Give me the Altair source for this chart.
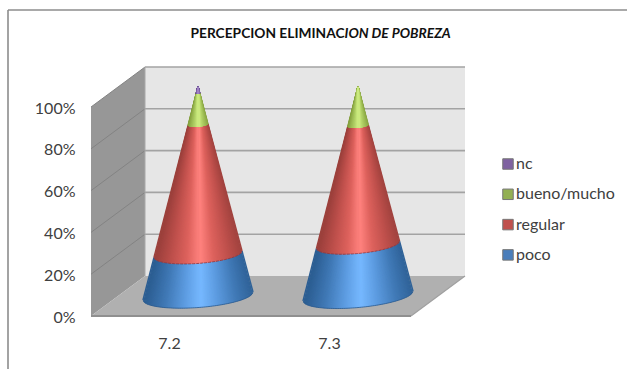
import altair as alt
import numpy as np
import pandas as pd

# Survey shares per question, stacked bottom to top
categories = ["7.2", "7.3"]
poco = [20.0, 24.5]
regular = [62.0, 57.0]
bueno_mucho = [15.0, 18.5]
nc = [3.0, 0.0]

series_names = ["poco", "regular", "bueno/mucho", "nc"]
series_values = [poco, regular, bueno_mucho, nc]
legend_order = ["nc", "bueno/mucho", "regular", "poco"]
legend_colors = ["#7F62A1", "#93B053", "#C0504D", "#4A7EBB"]
percent_ticks = [0, 20, 40, 60, 80, 100]

# Cone shading from the centre line (0) to the silhouette (1)
shades = {
    "poco": ["#76B8FF", "#5C9BE0", "#4079B6", "#2C5E93"],
    "regular": ["#FF827E", "#DD625D", "#BE504C", "#9C403C"],
    "bueno/mucho": ["#CFEC82", "#B4D46A", "#9DBB55", "#84A03E"],
    "nc": ["#A284C6", "#8A6CAE", "#7557A0", "#5E4780"],
}
shade_stops = [0.0, 0.3, 0.65, 1.0]

# Oblique projection: one category is 160 px wide, one percent is 2.09 px tall,
# and the full depth of the box shifts a point by 54 px right and 40 px up.
CAT_PX, PCT_PX = 160.0, 2.09
N_CATS = 2
DEPTH_X = 54.0 / CAT_PX
DEPTH_Y = 40.0 / PCT_PX
X_MAX = N_CATS + DEPTH_X
Y_MAX = 100 + DEPTH_Y
BASE_RADIUS = 55.0 / CAT_PX
SQUASH = 0.21
TILTS = [0.072, 0.088]


def project(cat, pct, depth):
    return cat + depth * DEPTH_X, pct + depth * DEPTH_Y


def ring_point(i, pct, u):
    """Front point of a cone's cross-section at height pct; u runs from -1 to 1 across it."""
    r = BASE_RADIUS * (1 - pct / 100.0)
    cx, cy = project(i + 0.5, pct, 0.5)
    s = np.sqrt(max(0.0, 1 - u * u))
    lift = r * CAT_PX / PCT_PX * (TILTS[i] * u - SQUASH * s)
    return cx + r * u, cy + lift


def mix(colors, t):
    rgb = np.array([[int(c[k:k + 2], 16) for k in (1, 3, 5)] for c in colors], float)
    vals = [np.interp(t, shade_stops, rgb[:, k]) for k in range(3)]
    return "#%02x%02x%02x" % tuple(int(round(v)) for v in vals)


# Generator lines of each visible cone section, painted from the rim inward
cone_rows, edge_rows = [], []
for i in range(N_CATS):
    bottom = 0.0
    for s, name in enumerate(series_names):
        value = series_values[s][i]
        if value <= 0:
            continue
        top = bottom + value
        for u in sorted(np.linspace(-1, 1, 141), key=lambda v: -abs(v)):
            x0, y0 = ring_point(i, bottom, u)
            x1, y1 = ring_point(i, top, u)
            cone_rows.append({"x": x0, "y": y0, "x2": x1, "y2": y1,
                              "c": mix(shades[name], min(1.0, abs(u - 0.05)))})
        if name in ("poco", "regular"):
            for u in np.linspace(-1, 1, 61):
                ex, ey = ring_point(i, bottom, u)
                edge_rows.append({"x": ex, "y": ey, "key": f"{i}-{name}", "kind": name})
        bottom = top

x_scale = alt.Scale(domain=[0, X_MAX], nice=False, zero=False)
y_scale = alt.Scale(domain=[0, Y_MAX], nice=False, zero=False)


def box_df(points):
    return pd.DataFrame(points, columns=["x", "y", "y2"])


# Box faces
back_wall = alt.Chart(box_df([
    (DEPTH_X, 100 + DEPTH_Y, DEPTH_Y),
    (X_MAX, 100 + DEPTH_Y, DEPTH_Y),
])).mark_area(color="#E6E6E6", line=False).encode(
    x=alt.X("x:Q", scale=x_scale, axis=alt.Axis(
        values=[i + 0.5 for i in range(N_CATS)],
        labelExpr="datum.value < 1 ? '" + categories[0] + "' : '" + categories[1] + "'",
        title=None, grid=False, domain=False, ticks=False, labelOffset=-2,
        labelFont="Lato", labelFontSize=16, labelColor="#404040", labelPadding=19)),
    y=alt.Y("y:Q", scale=y_scale, axis=alt.Axis(
        values=percent_ticks, labelExpr="datum.value + '%'",
        title=None, grid=False, domain=False, ticks=False, labelOffset=1,
        labelFont="Lato", labelFontSize=16, labelColor="#404040", labelPadding=16)),
    y2="y2:Q",
)

side_wall = alt.Chart(box_df([
    (0, 100, 0),
    (DEPTH_X, 100 + DEPTH_Y, DEPTH_Y),
])).mark_area(color="#979797").encode(
    x=alt.X("x:Q", scale=x_scale), y=alt.Y("y:Q", scale=y_scale), y2="y2:Q")

floor = alt.Chart(box_df([
    (0, 0, 0),
    (DEPTH_X, DEPTH_Y, 0),
    (N_CATS, DEPTH_Y, 0),
    (X_MAX, DEPTH_Y, DEPTH_Y),
])).mark_area(color="#B0B0B0").encode(
    x=alt.X("x:Q", scale=x_scale), y=alt.Y("y:Q", scale=y_scale), y2="y2:Q")

# Gridlines across the back wall and down the side wall
back_lines = pd.DataFrame([
    {"x": DEPTH_X, "x2": X_MAX, "y": p + DEPTH_Y, "y2": p + DEPTH_Y}
    for p in percent_ticks if p > 0
])
side_lines = pd.DataFrame([
    {"x": 0, "x2": DEPTH_X, "y": p, "y2": p + DEPTH_Y}
    for p in percent_ticks if p > 0
])
outline = pd.DataFrame([
    {"x": 0, "x2": N_CATS, "y": 0, "y2": 0},
    {"x": N_CATS, "x2": X_MAX, "y": 0, "y2": DEPTH_Y},
    {"x": DEPTH_X, "x2": DEPTH_X, "y": DEPTH_Y, "y2": 100 + DEPTH_Y},
])


def segments(df, color, width):
    return alt.Chart(df).mark_rule(color=color, strokeWidth=width).encode(
        x=alt.X("x:Q", scale=x_scale), x2="x2:Q",
        y=alt.Y("y:Q", scale=y_scale), y2="y2:Q")


back_grid = segments(back_lines, "#A3A3A3", 1.6)
side_grid = segments(side_lines, "#838383", 1.0)
box_edges = segments(outline.iloc[[0]], "#8F8F8F", 2.0) + \
    segments(outline.iloc[[1]], "#A0A0A0", 1.2) + \
    segments(outline.iloc[[2]], "#A8A8A8", 1.0)

cones = alt.Chart(pd.DataFrame(cone_rows)).mark_rule(strokeWidth=1.5).encode(
    x=alt.X("x:Q", scale=x_scale), x2="x2:Q",
    y=alt.Y("y:Q", scale=y_scale), y2="y2:Q",
    color=alt.Color("c:N", scale=None),
)

# Seams between cone sections
edges = pd.DataFrame(edge_rows)
base_edge = alt.Chart(edges[edges.kind == "poco"]).mark_line(
    color="#2A5A8E", strokeWidth=1, opacity=0.8).encode(
    x=alt.X("x:Q", scale=x_scale), y=alt.Y("y:Q", scale=y_scale), detail="key:N")
seam = alt.Chart(edges[edges.kind == "regular"]).mark_line(
    color="#7F3A48", strokeWidth=1, strokeDash=[3, 1], opacity=0.8).encode(
    x=alt.X("x:Q", scale=x_scale), y=alt.Y("y:Q", scale=y_scale), detail="key:N")

# Legend carried by zero-sized squares
legend_layer = alt.Chart(pd.DataFrame({
    "serie": legend_order, "x": [0.0] * 4, "y": [0.0] * 4,
})).mark_square(size=0).encode(
    x=alt.X("x:Q", scale=x_scale), y=alt.Y("y:Q", scale=y_scale),
    color=alt.Color("serie:N", sort=legend_order,
                    scale=alt.Scale(domain=legend_order, range=legend_colors),
                    legend=alt.Legend(
                        title=None, orient="none", legendX=409, legendY=89,
                        symbolType="square", symbolSize=110, symbolStrokeWidth=1,
                        symbolStrokeColor="#777777", symbolOpacity=1,
                        rowPadding=14.3, labelFont="Lato", labelFontSize=16,
                        labelColor="#404040", labelOffset=0)),
)

# Title in two runs: upright, then italic
title_upright = alt.Chart(pd.DataFrame({"t": ["PERCEPCION ELIMINAC"]})).mark_text(
    align="right", baseline="middle", font="Lato", fontSize=13.75, fontWeight="bold",
    color="#111111").encode(x=alt.value(253.5), y=alt.value(-33), text="t:N")
title_italic = alt.Chart(pd.DataFrame({"t": ["ION DE POBREZA"]})).mark_text(
    align="left", baseline="middle", font="Lato", fontSize=13.75, fontWeight="bold",
    fontStyle="italic", color="#111111").encode(x=alt.value(253.5), y=alt.value(-33), text="t:N")

# Chart frame: only the top and left edges show
frame_top = alt.Chart(pd.DataFrame({"k": [0]})).mark_rule(color="#8C8C8C", strokeWidth=1.6).encode(
    x=alt.value(-83), x2=alt.value(536), y=alt.value(-57))
frame_left = alt.Chart(pd.DataFrame({"k": [0]})).mark_rule(color="#8C8C8C", strokeWidth=1.6).encode(
    x=alt.value(-83), y=alt.value(-57), y2=alt.value(302))

chart = alt.layer(
    frame_top, frame_left,
    back_wall, back_grid, side_wall, side_grid, floor, box_edges,
    cones, base_edge, seam, legend_layer, title_upright, title_italic,
).resolve_scale(color="independent").properties(
    width=374, height=249,
    padding={"left": 91, "top": 67, "right": 162, "bottom": 53},
    autosize=alt.AutoSizeParams(type="none"),
    background="white",
).configure_view(stroke=None)

chart.save("out.html", embed_options={"renderer": "svg", "actions": False})
